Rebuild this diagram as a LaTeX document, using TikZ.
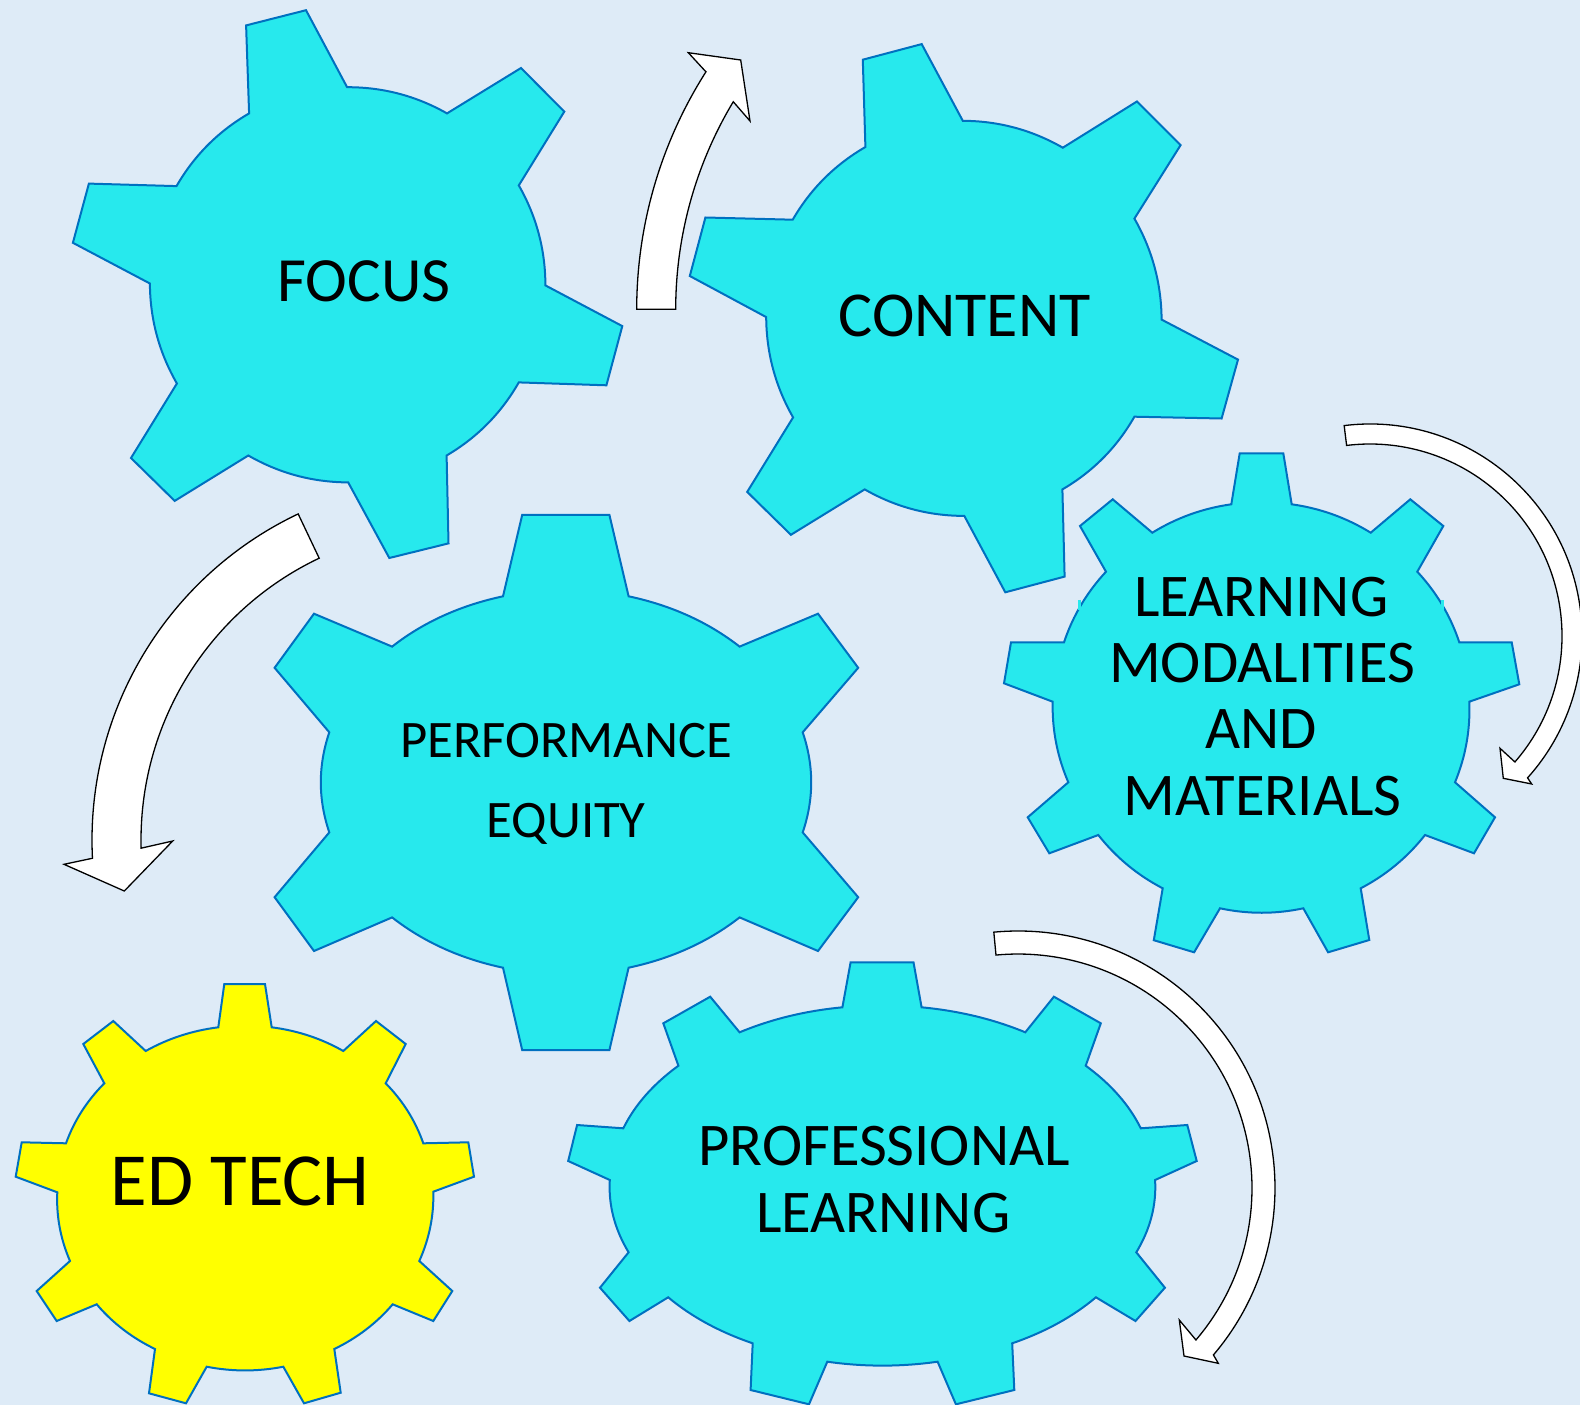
\documentclass[tikz,border=0pt]{standalone}
\usepackage{fontspec}
\setmainfont{Carlito}
\usetikzlibrary{calc}
\definecolor{bgblue}{HTML}{DEEBF7}
\definecolor{gcyan}{HTML}{27E9ED}
\definecolor{gblue}{HTML}{0070C0}
\definecolor{gyellow}{HTML}{FFFF00}
\begin{document}
\begin{tikzpicture}[x=1pt,y=-1pt,
  gear/.style={draw=gblue,line width=2pt,fill=gcyan,line join=miter},
  garc/.style={to path={.. controls ($ {(2+#1)/3}*(\tikztostart) + {(1+#1)/3}*(\tikztotarget) - {2*#1/3}*(gc) $) and ($ {(1+#1)/3}*(\tikztostart) + {(2+#1)/3}*(\tikztotarget) - {2*#1/3}*(gc) $) .. (\tikztotarget)}},
  garc/.default=0.0718,
  barrow/.style={draw=black,line width=1.3pt,fill=white,line join=miter},
  lbl/.style={anchor=base,inner sep=0pt,text=black}]
\fill[bgblue] (0,0) rectangle (1580,1405);
\useasboundingbox (0,0) rectangle (1580,1405);

% FOCUS gear
\coordinate (gc) at (347.7,284.8);
\draw[gear] (176.5,186.1) -- (88.9,183.6) -- (72.9,242.8) -- (149.9,283.5) to[garc] (176.9,383.5) -- (131.0,458.0) -- (174.7,500.9) -- (248.3,455.5) to[garc] (348.2,482.4) -- (389.3,558.0) -- (448.5,543.4) -- (446.6,455.5) to[garc] (518.8,382.4) -- (606.4,385.3) -- (622.3,326.1) -- (545.4,285.4) to[garc] (518.8,185.4) -- (564.3,111.6) -- (521.0,68.0) -- (447.0,113.4) to[garc] (347.1,87.2) -- (306.0,10.2) -- (246.1,25.4) -- (249.1,113.4) to[garc] (176.5,186.1) -- cycle;

% CONTENT gear
\coordinate (gc) at (963.5,318.3);
\draw[gear] (792.7,219.7) -- (705.4,217.5) -- (689.8,276.0) -- (766.2,317.1) to[garc] (793.1,417.4) -- (747.2,491.9) -- (790.9,534.8) -- (864.7,489.4) to[garc] (964.3,515.9) -- (1005.3,592.3) -- (1064.6,576.6) -- (1062.4,489.4) to[garc] (1134.4,416.7) -- (1221.6,418.5) -- (1238.0,359.6) -- (1161.6,319.6) to[garc] (1134.4,218.6) -- (1180.6,145.1) -- (1136.9,101.5) -- (1062.8,147.7) to[garc] (962.8,120.8) -- (921.7,44.1) -- (862.8,59.7) -- (865.4,147.0) to[garc] (792.7,219.7) -- cycle;

% PERFORMANCE EQUITY gear
\coordinate (gc) at (565.8,782);
\draw[gear] (503.0,596.3) -- (522.2,514.9) -- (609.4,514.9) -- (628.6,596.3) to[garc] (739.6,646.6) -- (818.0,613.7) -- (858.2,667.8) -- (802.7,732.3) to[garc] (802.7,832.4) -- (858.2,897.2) -- (818.0,951.0) -- (739.6,917.4) to[garc] (628.6,967.7) -- (609.4,1050.1) -- (522.2,1050.1) -- (503.0,967.7) to[garc] (392.1,917.4) -- (314.0,951.0) -- (274.6,897.2) -- (329.3,832.4) to[garc] (329.3,732.3) -- (274.6,667.8) -- (314.0,613.7) -- (392.1,646.6) to[garc] (503.0,596.3) -- cycle;

% LEARNING MODALITIES gear
\coordinate (gc) at (1261.5,706);
\draw[gear] (1231.3,504.3) -- (1239.7,453.3) -- (1283.3,453.3) -- (1291.7,504.3) to[garc=0.044] (1370.7,532.7) -- (1410.3,499.3) -- (1443.3,526) -- (1417.3,571.7) to[garc=0.044] (1459.3,642.3) -- (1511.7,642.3) -- (1519.3,684.3) -- (1469.3,701.7) to[garc=0.044] (1455,782.3) -- (1495,817.3) -- (1474,853.3) -- (1425,835) to[garc=0.044] (1360.7,888.3) -- (1369.3,940) -- (1328.1,952.3) -- (1303.3,908.3) to[garc=0.044] (1220,908.3) -- (1194.1,952.3) -- (1153.8,940.2) -- (1162.7,888.3) to[garc=0.044] (1098.3,835) -- (1049.3,853.3) -- (1027.7,817.3) -- (1068.3,782.3) to[garc=0.044] (1052.7,701.7) -- (1004,683.3) -- (1011,642.3) -- (1064,642.3) to[garc=0.044] (1106,571.7) -- (1080,526) -- (1112.7,499.3) -- (1152.3,532.7) to[garc=0.044] (1231.3,504.3) -- cycle;
\fill[gcyan] (1077.8,600) rectangle (1080.6,610);
\fill[gcyan] (1441.4,600) rectangle (1444.2,610);

% ED TECH gear
\coordinate (gc) at (245,1197);
\draw[gear,fill=gyellow] (218.3,1027.3) -- (224.3,984) -- (265,984) -- (271.7,1027.3) to[garc=0.044] (343.3,1051) -- (376,1021) -- (405.7,1044) -- (385.7,1083.3) to[garc=0.044] (423.3,1143.3) -- (468.3,1142.3) -- (474,1176.7) -- (433.3,1191.7) to[garc=0.044] (419.3,1261) -- (452.3,1291) -- (433.3,1321) -- (392.7,1304.3) to[garc=0.044] (334.3,1349) -- (340.7,1392.7) -- (304,1403.3) -- (283.3,1366.7) to[garc=0.044] (206.7,1366.7) -- (186,1403.3) -- (149,1393.3) -- (155,1349) to[garc=0.044] (96.7,1304.3) -- (56.7,1321) -- (36.7,1291) -- (70,1261) to[garc=0.044] (57.3,1192.3) -- (15.7,1176.7) -- (21.7,1142.3) -- (66,1143.3) to[garc=0.044] (104.3,1083.3) -- (83.3,1044) -- (113.3,1021) -- (145.7,1051) to[garc=0.044] (218.3,1027.3) -- cycle;

% PROFESSIONAL LEARNING gear
\coordinate (gc) at (882.5,1184);
\draw[gear] (842.4,1007.3) -- (850.6,962.3) -- (913.5,962.3) -- (921.6,1007.3) to[garc=0.044] (1025.3,1032.3) -- (1053.9,996.7) -- (1100.8,1023.3) -- (1085.7,1065.7) to[garc=0.044] (1140.8,1128.3) -- (1187.3,1125) -- (1196.7,1161) -- (1155.1,1180) to[garc=0.044] (1136.3,1252.3) -- (1164.9,1287.7) -- (1135.5,1321) -- (1095.9,1297.3) to[garc=0.044] (1012.2,1343.3) -- (1014.3,1390) -- (955.9,1404.3) -- (937.6,1361.7) to[garc=0.044] (827.3,1361.7) -- (809.0,1404.3) -- (750.6,1390) -- (752.7,1343.3) to[garc=0.044] (668.2,1297.3) -- (629.4,1321) -- (600.0,1287.7) -- (628.6,1252.3) to[garc=0.044] (609.8,1180) -- (568.2,1161) -- (577.1,1125) -- (623.3,1128.3) to[garc=0.044] (678.4,1065.7) -- (663.3,1023.3) -- (710.2,996.7) -- (739.6,1032.3) to[garc=0.044] (842.4,1007.3) -- cycle;

% curved block arrows
\coordinate (a1c) at (1078.7,309.3);
\draw[barrow] ($(a1c)+(180:442)$) arc[start angle=180, end angle=212.5, radius=442] -- (688.3,52.7) -- (740.7,60) -- (750,121) -- ($(a1c)+(211:403)$) arc[start angle=211, end angle=180, radius=403] -- cycle;

\coordinate (a2c) at (453,840);
\draw[barrow] ($(a2c)+(-115.4:361)$) arc[start angle=-115.4, end angle=-182.9, radius=361] -- (64,864.3) -- (124.3,891) -- (172.7,841) -- ($(a2c)+(-181.5:312)$) arc[start angle=-181.5, end angle=-115.4, radius=312] -- cycle;

\coordinate (a3c) at (1370,636);
\draw[barrow] ($(a3c)+(-97:212)$) arc[start angle=-97, end angle=42, radius=212] -- (1531.7,784) -- (1503.3,778.3) -- (1500,748.3) -- ($(a3c)+(41:192)$) arc[start angle=41, end angle=-97, radius=192] -- cycle;

\coordinate (a4c) at (1018,1188);
\draw[barrow] ($(a4c)+(-95.4:257)$) arc[start angle=-95.4, end angle=40.5, radius=257] -- (1218.3,1363.3) -- (1184,1356) -- (1179.3,1320) -- ($(a4c)+(40.5:234)$) arc[start angle=40.5, end angle=-95.4, radius=234] -- cycle;

% labels
\node[lbl,font=\fontsize{63}{63}\selectfont] (tfocus) at (364.1,301.7) {FOCUS};
\node[lbl,font=\fontsize{64}{64}\selectfont] (tcontent) at (964.6,336.7) {CONTENT};
\node[lbl,font=\fontsize{52.7}{53}\selectfont] (tperf) at (566.2,757) {PERFORMANCE};
\node[lbl,font=\fontsize{52.7}{53}\selectfont] (tequity) at (566.2,837.7) {EQUITY};
\node[lbl,font=\fontsize{60.6}{61}\selectfont] (tlm1) at (1261.2,616.7) {LEARNING};
\node[lbl,font=\fontsize{60.6}{61}\selectfont] (tlm2) at (1262,682.7) {MODALITIES};
\node[lbl,font=\fontsize{60.6}{61}\selectfont] (tlm3) at (1260.8,748.3) {AND};
\node[lbl,font=\fontsize{60.6}{61}\selectfont] (tlm4) at (1262.5,815) {MATERIALS};
\node[lbl,font=\fontsize{60.6}{61}\selectfont] (tpl1) at (884.1,1165) {PROFESSIONAL};
\node[lbl,font=\fontsize{60.6}{61}\selectfont] (tpl2) at (883.1,1232.3) {LEARNING};
\node[lbl,font=\fontsize{75}{75}\selectfont] (ted) at (240.3,1205.7) {ED TECH};
\end{tikzpicture}
\end{document}
